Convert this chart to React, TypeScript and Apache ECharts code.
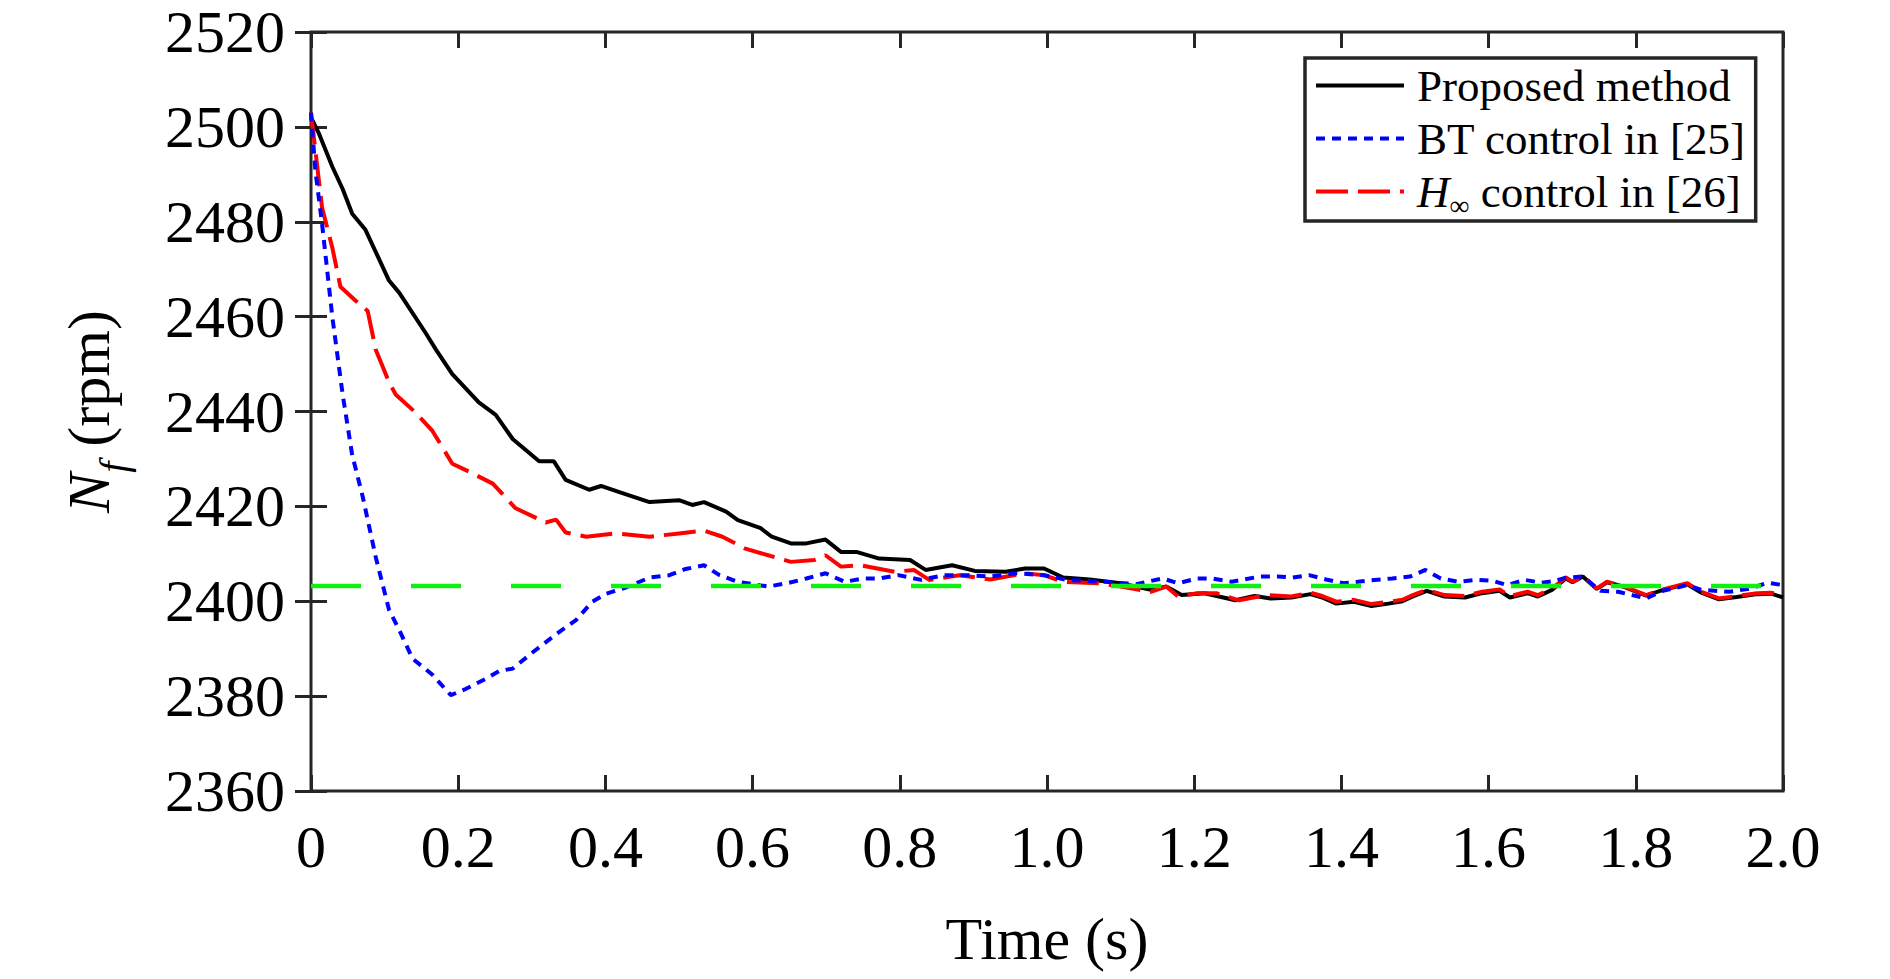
import { useEffect, useRef } from "react";
import * as echarts from "echarts";

// time (s), Nf (rpm)
const proposedData = [
  [0, 2502], [0.011, 2498.5], [0.029, 2491.6], [0.043, 2486.9], [0.056, 2481.7], [0.074, 2478.3],
  [0.106, 2467.6], [0.12, 2465], [0.156, 2456.5], [0.17, 2453], [0.192, 2447.9], [0.228, 2441.9],
  [0.251, 2439.3], [0.274, 2434.2], [0.31, 2429.5], [0.33, 2429.5], [0.346, 2425.6], [0.378, 2423.5],
  [0.394, 2424.3], [0.419, 2423], [0.46, 2420.9], [0.5, 2421.3], [0.518, 2420.3], [0.534, 2420.9],
  [0.564, 2418.9], [0.58, 2417.1], [0.611, 2415.4], [0.626, 2413.6], [0.652, 2412.2], [0.673, 2412.2],
  [0.699, 2413.0], [0.72, 2410.4], [0.741, 2410.4], [0.772, 2409], [0.814, 2408.7], [0.835, 2406.6],
  [0.871, 2407.6], [0.902, 2406.4], [0.944, 2406.2], [0.97, 2406.9], [0.996, 2406.9], [1.022, 2405],
  [1.058, 2404.6], [1.1, 2403.8], [1.141, 2402.4], [1.162, 2403.1], [1.183, 2401.3], [1.214, 2401.7],
  [1.256, 2400.2], [1.282, 2401.1], [1.304, 2400.6], [1.332, 2400.8], [1.358, 2401.5], [1.374, 2400.8],
  [1.393, 2399.5], [1.417, 2399.9], [1.441, 2399.0], [1.464, 2399.5], [1.483, 2400.0], [1.497, 2401.0],
  [1.516, 2402.2], [1.54, 2401.0], [1.568, 2400.8], [1.591, 2401.7], [1.615, 2402.2], [1.629, 2400.8],
  [1.653, 2401.7], [1.667, 2401.0], [1.686, 2402.4], [1.705, 2404.8], [1.714, 2404.0], [1.728, 2405.2],
  [1.747, 2402.6], [1.761, 2404.0], [1.785, 2403.0], [1.814, 2401.2], [1.837, 2402.4], [1.87, 2403.6],
  [1.889, 2401.8], [1.913, 2400.4], [1.937, 2400.9], [1.965, 2401.5], [1.984, 2401.6], [2.0, 2400.8],
];

const btData = [
  [0, 2503], [0.006, 2490.7], [0.015, 2479.6], [0.029, 2459.9], [0.043, 2443.6], [0.056, 2430.8],
  [0.07, 2422.2], [0.088, 2409.3], [0.106, 2398.2], [0.12, 2393.9], [0.138, 2387.9], [0.165, 2384.5],
  [0.19, 2380.2], [0.21, 2381.5], [0.237, 2383.6], [0.256, 2385.3], [0.274, 2385.8], [0.301, 2389.2],
  [0.337, 2393.5], [0.36, 2396], [0.382, 2399.9], [0.401, 2401.6], [0.428, 2402.9], [0.46, 2405],
  [0.487, 2405.5], [0.509, 2406.8], [0.534, 2407.6], [0.555, 2405.5], [0.58, 2404.1], [0.621, 2403.1],
  [0.647, 2403.8], [0.673, 2404.8], [0.699, 2405.9], [0.725, 2404.1], [0.751, 2404.8], [0.772, 2404.8],
  [0.798, 2405.5], [0.829, 2404.5], [0.86, 2405.5], [0.892, 2405.5], [0.923, 2405.2], [0.959, 2405.9],
  [0.996, 2405.5], [1.027, 2404.5], [1.079, 2404.1], [1.121, 2403.6], [1.157, 2404.8], [1.178, 2403.8],
  [1.204, 2404.8], [1.225, 2404.8], [1.251, 2404.1], [1.289, 2405.2], [1.313, 2405.2], [1.334, 2405],
  [1.356, 2405.5], [1.379, 2404.6], [1.403, 2403.8], [1.422, 2404.1], [1.445, 2404.5], [1.469, 2404.8],
  [1.493, 2405.2], [1.514, 2406.6], [1.535, 2404.8], [1.559, 2404.1], [1.583, 2404.5], [1.606, 2404.3],
  [1.625, 2403.4], [1.649, 2404.5], [1.672, 2403.9], [1.691, 2404.3], [1.705, 2405], [1.728, 2405.2],
  [1.752, 2402.2], [1.776, 2402], [1.795, 2401.3], [1.814, 2400.6], [1.837, 2402.2], [1.87, 2403.4],
  [1.889, 2402.4], [1.927, 2402], [1.956, 2402.7], [1.979, 2403.9], [2.0, 2403.4],
];

const hinfData = [
  [0, 2503], [0.015, 2483], [0.029, 2474.5], [0.04, 2466.3], [0.061, 2463.3], [0.077, 2461.2],
  [0.088, 2453], [0.106, 2446.2], [0.115, 2443.6], [0.142, 2439.8], [0.165, 2435.9], [0.192, 2429],
  [0.215, 2427.3], [0.247, 2424.8], [0.278, 2419.6], [0.319, 2416.6], [0.333, 2417.2], [0.346, 2414.5],
  [0.374, 2413.6], [0.414, 2414.3], [0.46, 2413.6], [0.5, 2414.3], [0.534, 2414.9], [0.559, 2413.6],
  [0.59, 2411.1], [0.621, 2409.7], [0.652, 2408.3], [0.684, 2408.7], [0.699, 2409.7], [0.72, 2407.3],
  [0.746, 2407.6], [0.793, 2406.2], [0.819, 2406.6], [0.84, 2404.5], [0.881, 2405.5], [0.923, 2404.6],
  [0.97, 2405.9], [0.996, 2405.5], [1.022, 2404.1], [1.069, 2403.8], [1.1, 2403.1], [1.141, 2402],
  [1.162, 2403.1], [1.178, 2401], [1.204, 2401.7], [1.23, 2401.7], [1.261, 2400.2], [1.297, 2401.3],
  [1.332, 2401], [1.358, 2401.8], [1.374, 2401.1], [1.393, 2399.9], [1.417, 2400.3], [1.441, 2399.4],
  [1.464, 2399.9], [1.483, 2400.3], [1.497, 2401.3], [1.516, 2402.4], [1.54, 2401.3], [1.568, 2401.1],
  [1.591, 2402], [1.615, 2402.5], [1.629, 2401.1], [1.653, 2402], [1.667, 2401.3], [1.686, 2402.7],
  [1.705, 2405], [1.714, 2404.1], [1.728, 2405.3], [1.747, 2402.7], [1.761, 2404.1], [1.785, 2403.1],
  [1.814, 2401.3], [1.837, 2402.5], [1.87, 2403.8], [1.889, 2402], [1.913, 2400.6], [1.937, 2401.1],
  [1.965, 2401.7], [1.984, 2401.8], [2.0, 2401.1],
];

const referenceSpeed = 2403.2;
const referenceData = [[0, referenceSpeed], [2, referenceSpeed]];

const seriesNames = ["Proposed method", "BT control in [25]", "H∞ control in [26]"];

const FONT = "Liberation Serif, Times New Roman, serif";
const FRAME = "#262626";

export default function App() {
  const chartRef = useRef<HTMLDivElement>(null);

  useEffect(() => {
    document.body.style.margin = "0";
    if (!chartRef.current) return;
    const chart = echarts.init(chartRef.current, null, { renderer: "svg" });

    const tick = { show: true, inside: true, length: 16, lineStyle: { color: FRAME, width: 3 } };

    chart.setOption({
      animation: false,
      backgroundColor: "#fff",
      grid: {
        left: 311,
        right: 107,
        top: 32,
        bottom: 188,
        show: true,
        borderColor: FRAME,
        borderWidth: 3,
      },
      legend: {
        data: seriesNames,
        orient: "vertical",
        left: 1305,
        top: 58,
        padding: [5, 10, 2, 9],
        itemGap: 8,
        itemWidth: 88,
        itemHeight: 20,
        backgroundColor: "#fff",
        borderColor: FRAME,
        borderWidth: 3.5,
        borderRadius: 0,
        itemStyle: { opacity: 0, borderWidth: 0 },
        lineStyle: { width: 4 },
        formatter: (name: string) =>
          name.startsWith("H∞") ? "{h|H}{s|∞}" + name.slice(2) : name,
        textStyle: {
          fontFamily: FONT,
          fontSize: 45,
          color: "#000",
          padding: [0, 0, 0, 8],
          rich: {
            h: { fontFamily: FONT, fontSize: 45, fontStyle: "italic", color: "#000" },
            s: {
              fontFamily: FONT,
              fontSize: 28,
              color: "#000",
              verticalAlign: "bottom",
              padding: [0, 0, -5, 0],
            },
          },
        },
      },
      xAxis: [
        {
          type: "value",
          min: 0,
          max: 2,
          interval: 0.2,
          name: "Time (s)",
          nameLocation: "middle",
          nameGap: 118,
          nameTextStyle: { fontFamily: FONT, fontSize: 60, color: "#000" },
          axisLine: { show: false },
          axisTick: tick,
          splitLine: { show: false },
          axisLabel: {
            fontFamily: FONT,
            fontSize: 60,
            color: "#000",
            margin: 26,
            formatter: (v: number) => (v === 0 ? "0" : v.toFixed(1)),
          },
        },
        {
          type: "value",
          position: "top",
          min: 0,
          max: 2,
          interval: 0.2,
          axisLine: { show: false },
          axisTick: tick,
          axisLabel: { show: false },
          splitLine: { show: false },
        },
      ],
      yAxis: [
        {
          type: "value",
          min: 2360,
          max: 2520,
          interval: 20,
          name: "{n|N}{f|f} (rpm)",
          nameLocation: "middle",
          nameGap: 192,
          nameTextStyle: {
            fontFamily: FONT,
            fontSize: 60,
            color: "#000",
            rich: {
              n: { fontFamily: FONT, fontSize: 60, fontStyle: "italic", color: "#000" },
              f: {
                fontFamily: FONT,
                fontSize: 40,
                fontStyle: "italic",
                color: "#000",
                verticalAlign: "bottom",
                padding: [0, 0, -14, 0],
              },
            },
          },
          axisLine: { show: false },
          axisTick: tick,
          splitLine: { show: false },
          axisLabel: {
            fontFamily: FONT,
            fontSize: 60,
            color: "#000",
            margin: 26,
            formatter: (v: number) => String(v),
          },
        },
        {
          type: "value",
          position: "right",
          min: 2360,
          max: 2520,
          interval: 20,
          axisLine: { show: false },
          axisTick: tick,
          axisLabel: { show: false },
          splitLine: { show: false },
        },
      ],
      series: [
        {
          name: seriesNames[0],
          type: "line",
          data: proposedData,
          symbol: "none",
          lineStyle: { color: "#000", width: 4 },
          itemStyle: { color: "#000" },
          z: 2,
        },
        {
          name: seriesNames[2],
          type: "line",
          data: hinfData,
          symbol: "none",
          lineStyle: { color: "#ff0000", width: 4, type: [32, 10] },
          itemStyle: { color: "#ff0000" },
          z: 3,
        },
        {
          name: seriesNames[1],
          type: "line",
          data: btData,
          symbol: "none",
          lineStyle: { color: "#0000ff", width: 4, type: [9, 7] },
          itemStyle: { color: "#0000ff" },
          z: 4,
        },
        {
          name: "Reference",
          type: "line",
          data: referenceData,
          symbol: "none",
          lineStyle: { color: "#11ee11", width: 4.5, type: [50, 50] },
          itemStyle: { color: "#11ee11" },
          z: 5,
        },
      ],
    });

    return () => {
      chart.dispose();
    };
  }, []);

  return <div ref={chartRef} style={{ width: "1890px", height: "979px" }} />;
}
